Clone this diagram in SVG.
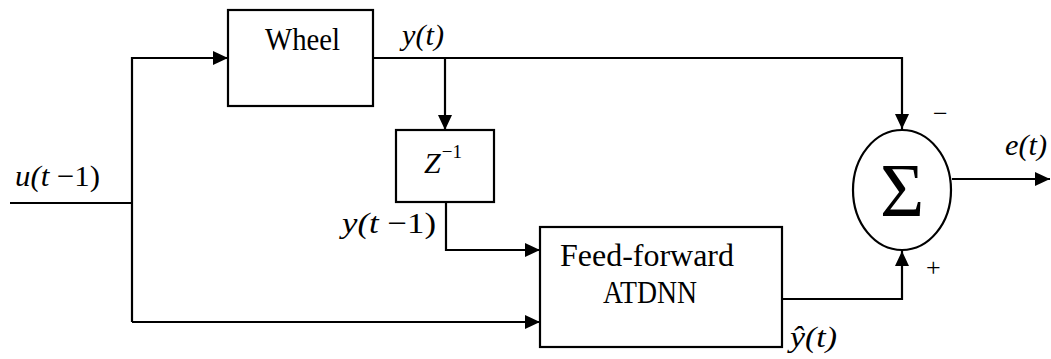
<svg xmlns="http://www.w3.org/2000/svg" width="1051" height="359" viewBox="0 0 1051 359">
<style>
text{font-family:"Liberation Serif","Times New Roman",Times,"DejaVu Serif",serif;fill:#000}
.box{fill:#fff;stroke:#000;stroke-width:2.2}
.ln{fill:none;stroke:#000;stroke-width:2.2}
.t{font-size:31px}
.m{font-style:italic;font-size:30px}
.s{font-size:26px}
</style>
<defs>
<marker id="ah" markerUnits="userSpaceOnUse" markerWidth="16" markerHeight="14" refX="15" refY="7" orient="auto">
<path d="M0,0 L15,7 L0,14 Z" fill="#000"/>
</marker>
</defs>
<rect width="1051" height="359" fill="#fff"/>
<g id="connectors">
<path class="ln" d="M10,203 H132"/>
<path class="ln" d="M132,322 V58 H228" marker-end="url(#ah)"/>
<path class="ln" d="M132,322 H540" marker-end="url(#ah)"/>
<path class="ln" d="M373,58 H902 V129" marker-end="url(#ah)"/>
<path class="ln" d="M445,58 V130" marker-end="url(#ah)"/>
<path class="ln" d="M446,202 V250 H540" marker-end="url(#ah)"/>
<path class="ln" d="M782,299 H902 V251" marker-end="url(#ah)"/>
<path class="ln" d="M952,179 H1050" marker-end="url(#ah)"/>
</g>
<g id="wheel">
<rect class="box" x="228" y="10" width="145" height="96"/>
<text class="t" x="265" y="50" textLength="75" lengthAdjust="spacingAndGlyphs">Wheel</text>
</g>
<g id="delay">
<rect class="box" x="396" y="130" width="98" height="72"/>
<text class="m" x="424" y="173">Z<tspan font-size="19" font-style="normal" dx="1" dy="-15">−1</tspan></text>
</g>
<g id="atdnn">
<rect class="box" x="540" y="227" width="242" height="120"/>
<text class="t" x="560" y="266" textLength="174" lengthAdjust="spacingAndGlyphs">Feed-forward</text>
<text class="t" x="603" y="303" textLength="94" lengthAdjust="spacingAndGlyphs">ATDNN</text>
</g>
<g id="sum">
<ellipse class="box" cx="902" cy="190" rx="49" ry="60"/>
<text x="902" y="216" text-anchor="middle" font-size="76">Σ</text>
</g>
<g id="labels">
<text class="m" x="15" y="186" textLength="85" lengthAdjust="spacingAndGlyphs">u(t<tspan font-style="normal"> −1)</tspan></text>
<text class="m" x="402" y="45" textLength="42" lengthAdjust="spacingAndGlyphs">y(t)</text>
<text class="m" x="342" y="233" textLength="94" lengthAdjust="spacingAndGlyphs">y(t<tspan font-style="normal"> −1)</tspan></text>
<text class="m" x="790" y="347" textLength="47" lengthAdjust="spacingAndGlyphs">ŷ(t)</text>
<text class="m" x="1005" y="155" textLength="42" lengthAdjust="spacingAndGlyphs">e(t)</text>
<text class="s" x="933" y="122">−</text>
<text class="s" x="926" y="276">+</text>
</g>
</svg>
